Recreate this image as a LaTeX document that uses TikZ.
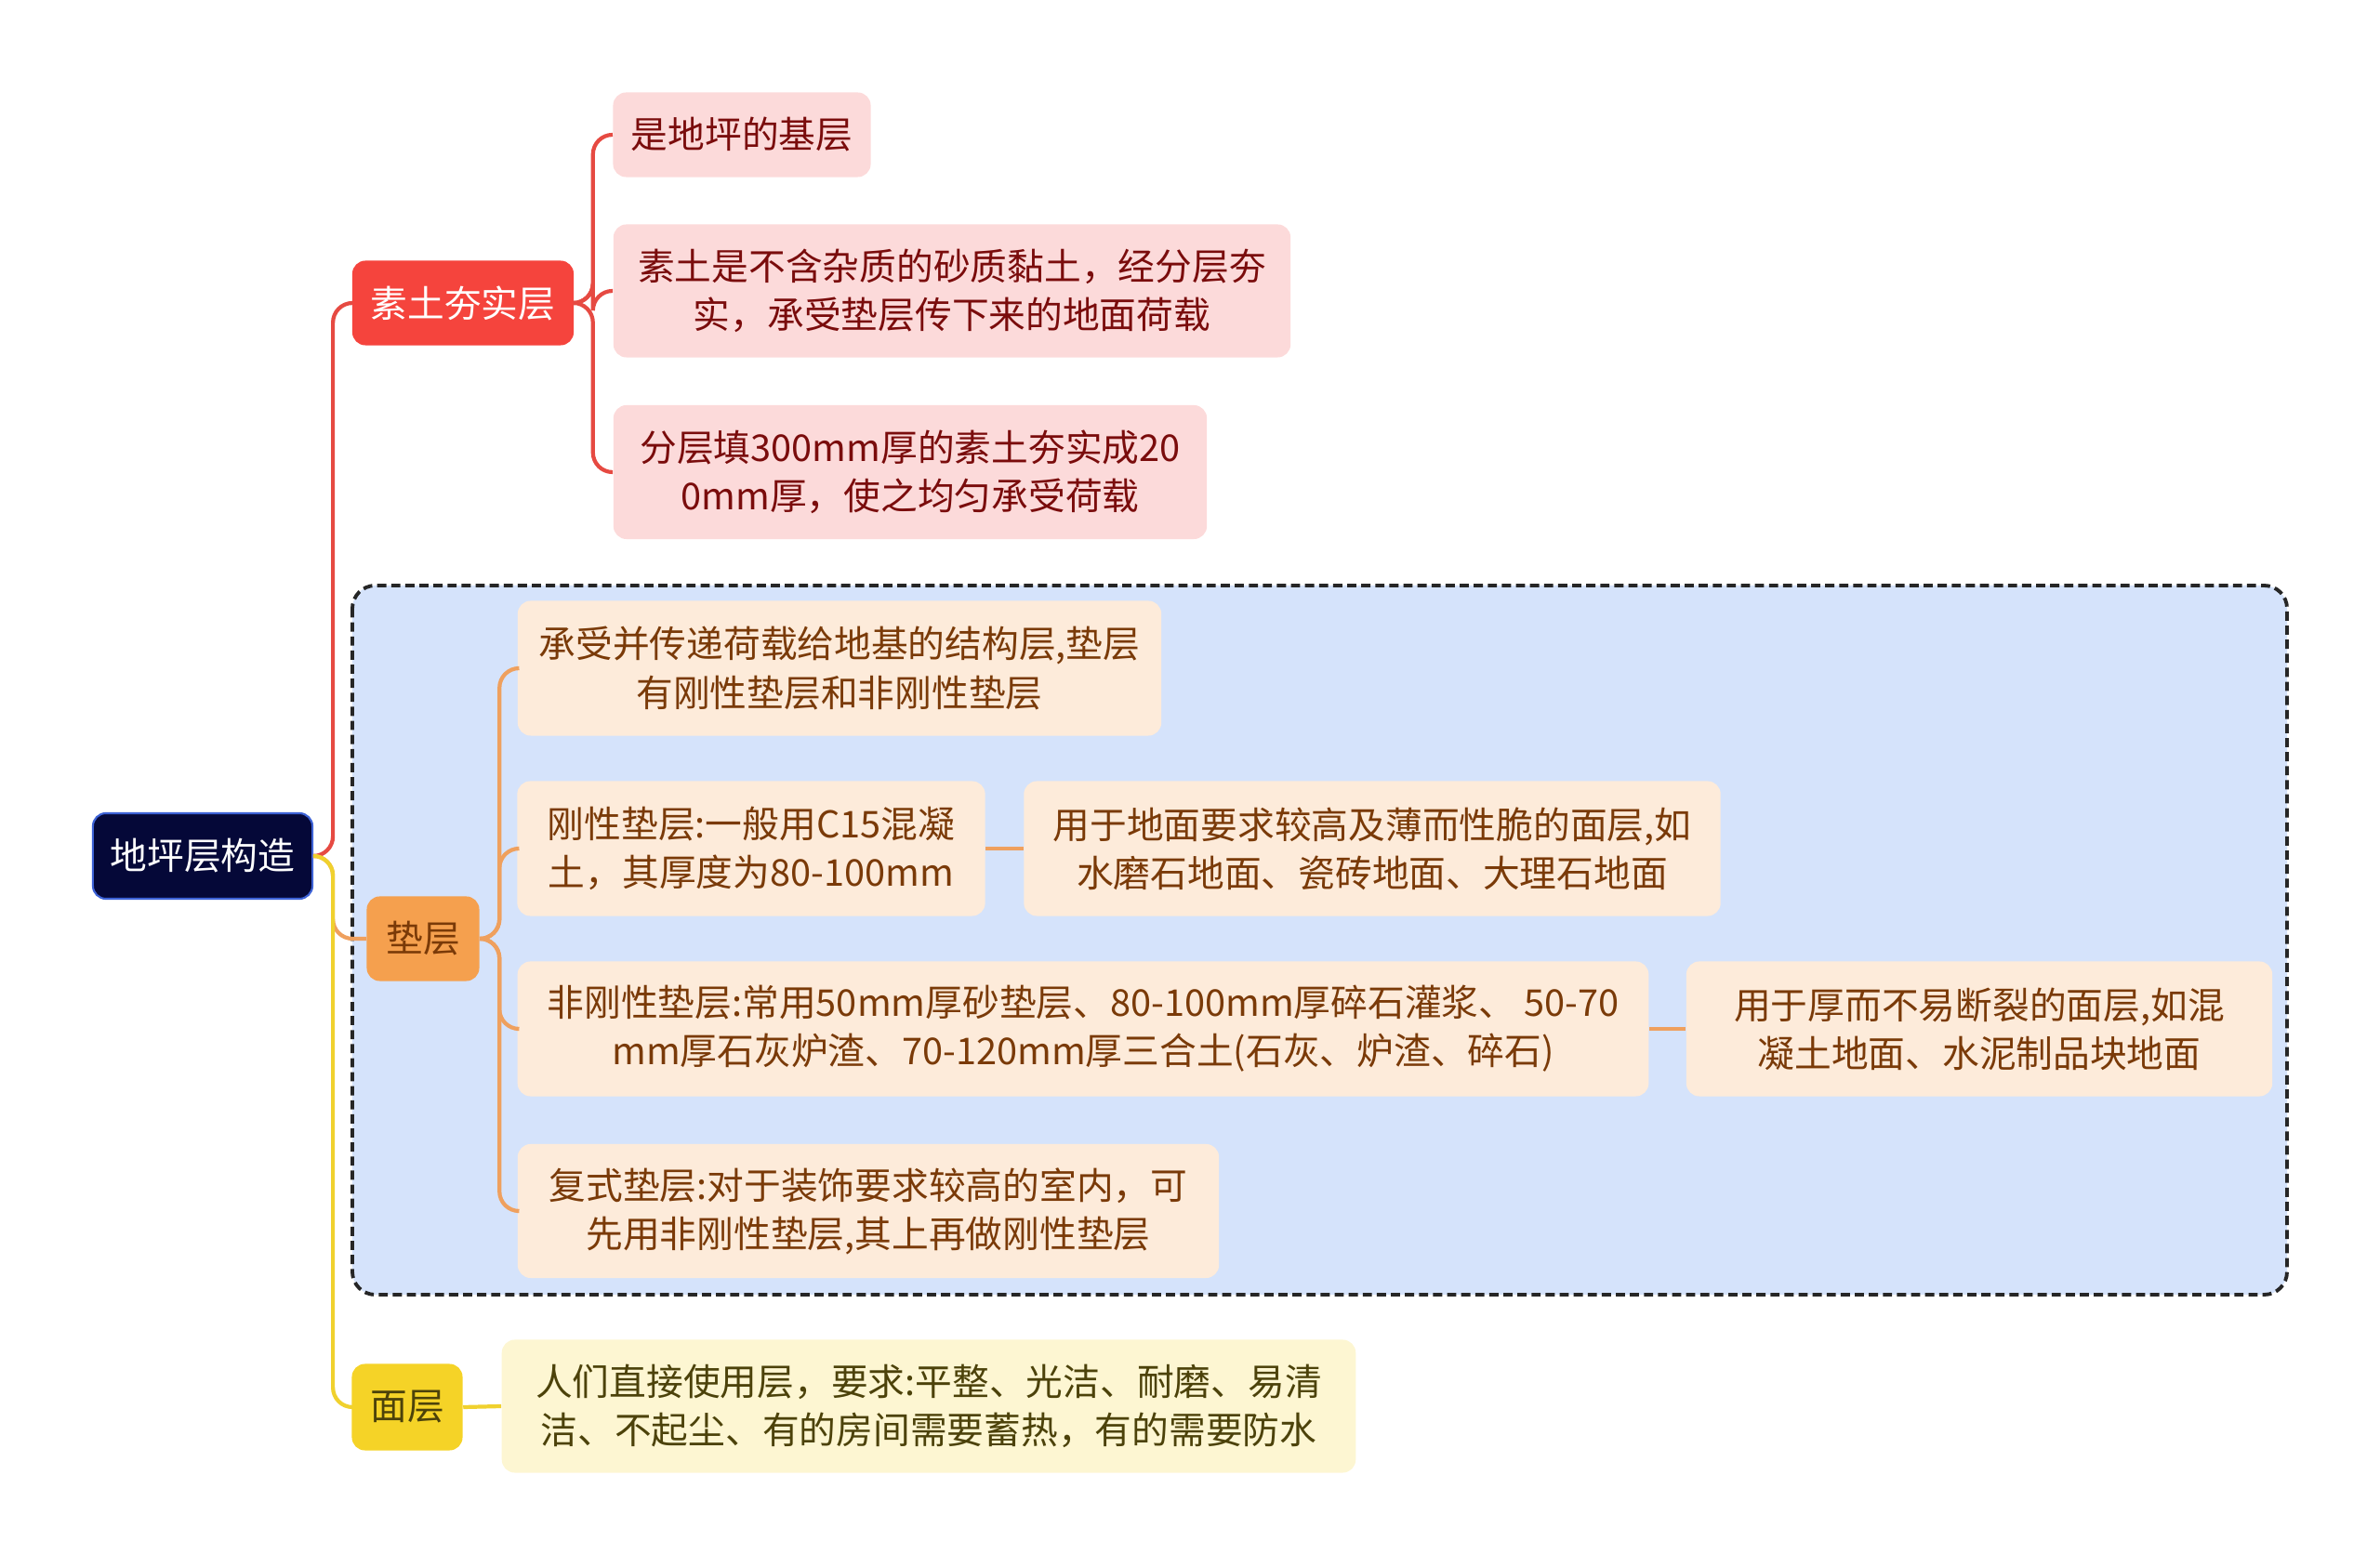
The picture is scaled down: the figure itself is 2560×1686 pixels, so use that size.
\documentclass[tikz,border=0pt]{standalone}
\usepackage{fontspec}
\usepackage{tikz}
\usetikzlibrary{calc,positioning}
\newfontfamily\cjk{Noto Sans CJK SC}
\definecolor{RootBG}{HTML}{050838}
\definecolor{RootFrame}{HTML}{3D62D6}
\definecolor{SoilRed}{HTML}{F5443D}
\definecolor{SoilLine}{HTML}{E64A42}
\definecolor{SoilBG}{HTML}{FCDADA}
\definecolor{SoilText}{HTML}{7A0C0C}
\definecolor{PadOrange}{HTML}{F5A04E}
\definecolor{PadLine}{HTML}{EFA05E}
\definecolor{PadBG}{HTML}{FDEBDA}
\definecolor{PadText}{HTML}{7A3A08}
\definecolor{FaceYellow}{HTML}{F5D327}
\definecolor{FaceLine}{HTML}{F0D12E}
\definecolor{FaceBG}{HTML}{FDF6D2}
\definecolor{FaceText}{HTML}{4C420A}
\definecolor{ZoneBG}{HTML}{D5E3FB}
\begin{document}
\begin{tikzpicture}[x=0.01cm, y=-0.01cm,
  nd/.style={rounded corners=4pt, inner sep=0pt, align=center,
             font=\cjk\fontsize{11.3}{14.8}\selectfont},
  rootnd/.style={nd, draw=RootFrame, line width=0.6pt, fill=RootBG, text=white},
  soilnd/.style={nd, fill=SoilRed, text=white},
  soilleaf/.style={nd, fill=SoilBG, text=SoilText},
  padnd/.style={nd, fill=PadOrange, text=PadText},
  padleaf/.style={nd, fill=PadBG, text=PadText},
  facend/.style={nd, fill=FaceYellow, text=FaceText},
  faceleaf/.style={nd, fill=FaceBG, text=FaceText},
  link/.style={line width=1.2pt, rounded corners=6pt}]
  \useasboundingbox (0,0) rectangle (2560,1686);
  % dashed zone behind the pad layer
  \draw[fill=ZoneBG, draw=black!85, line width=1.1pt, dash pattern=on 2.8pt off 1.5pt,
        rounded corners=7pt] (379,630) rectangle (2460,1393);
  \node[rootnd, minimum width=2.36cm, minimum height=0.92cm] (root) at (218,921) {地坪层构造};
  % soil branch
  \node[soilnd, minimum width=2.38cm, minimum height=0.91cm] (soil) at (498,326) {素土夯实层};
  \node[soilleaf, minimum width=2.77cm, minimum height=0.91cm] (s1) at (798,145) {是地坪的基层};
  \node[soilleaf, minimum width=7.28cm, minimum height=1.43cm] (s2) at (1024,313)
    {素土是不含杂质的砂质黏土，经分层夯\\实，承受垫层传下来的地面荷载};
  \node[soilleaf, minimum width=6.38cm, minimum height=1.44cm] (s3) at (979,508)
    {分层填300mm厚的素土夯实成20\\0mm厚，使之均匀承受荷载};
  % pad branch
  \node[padnd, minimum width=1.21cm, minimum height=0.91cm] (pad) at (455,1010) {垫层};
  \node[padleaf, minimum width=6.92cm, minimum height=1.45cm] (p1) at (903,719)
    {承受并传递荷载给地基的结构层,垫层\\有刚性垫层和非刚性垫层};
  \node[padleaf, minimum width=5.03cm, minimum height=1.45cm] (p2) at (808,913)
    {刚性垫层:一般用C15混凝\\土，其厚度为80-100mm};
  \node[padleaf, minimum width=7.49cm, minimum height=1.45cm] (p2b) at (1476,913)
    {用于地面要求较高及薄而性脆的面层,如\\水磨石地面、瓷砖地面、大理石地面};
  \node[padleaf, minimum width=12.16cm, minimum height=1.45cm] (p3) at (1165,1107)
    {非刚性垫层:常用50mm厚砂垫层、80-100mm厚碎石灌浆、 50-70\\mm厚石灰炉渣、70-120mm厚三合土(石灰、炉渣、碎石)};
  \node[padleaf, minimum width=6.30cm, minimum height=1.45cm] (p3b) at (2129,1107)
    {用于厚而不易断裂的面层,如混\\凝土地面、水泥制品块地面};
  \node[padleaf, minimum width=7.54cm, minimum height=1.44cm] (p4) at (934,1303)
    {复式垫层:对于装饰要求较高的室内，可\\先用非刚性垫层,其上再做刚性垫层};
  % face branch
  \node[facend, minimum width=1.19cm, minimum height=0.93cm] (face) at (438,1514) {面层};
  \node[faceleaf, minimum width=9.18cm, minimum height=1.43cm] (f1) at (999,1513)
    {人们直接使用层，要求:平整、光洁、耐磨、易清\\洁、不起尘、有的房间需要蓄热，有的需要防水};
  % connectors
  \draw[link, SoilLine] (root.east) -- ++(21,0) |- (soil.west);
  \foreach \leaf in {s1,s2,s3}
    \draw[link, SoilLine] (soil.east) -- ++(20,0) |- (\leaf.west);
  \draw[link, PadLine] (root.east) -- ++(21,0) |- (pad.west);
  \foreach \leaf in {p1,p2,p3,p4}
    \draw[link, PadLine] (pad.east) -- ++(21,0) |- (\leaf.west);
  \draw[link, PadLine] (p2.east) -- (p2b.west);
  \draw[link, PadLine] (p3.east) -- (p3b.west);
  \draw[link, FaceLine] (root.east) -- ++(21,0) |- (face.west);
  \draw[link, FaceLine] (face.east) -- (f1.west);
\end{tikzpicture}
\end{document}
